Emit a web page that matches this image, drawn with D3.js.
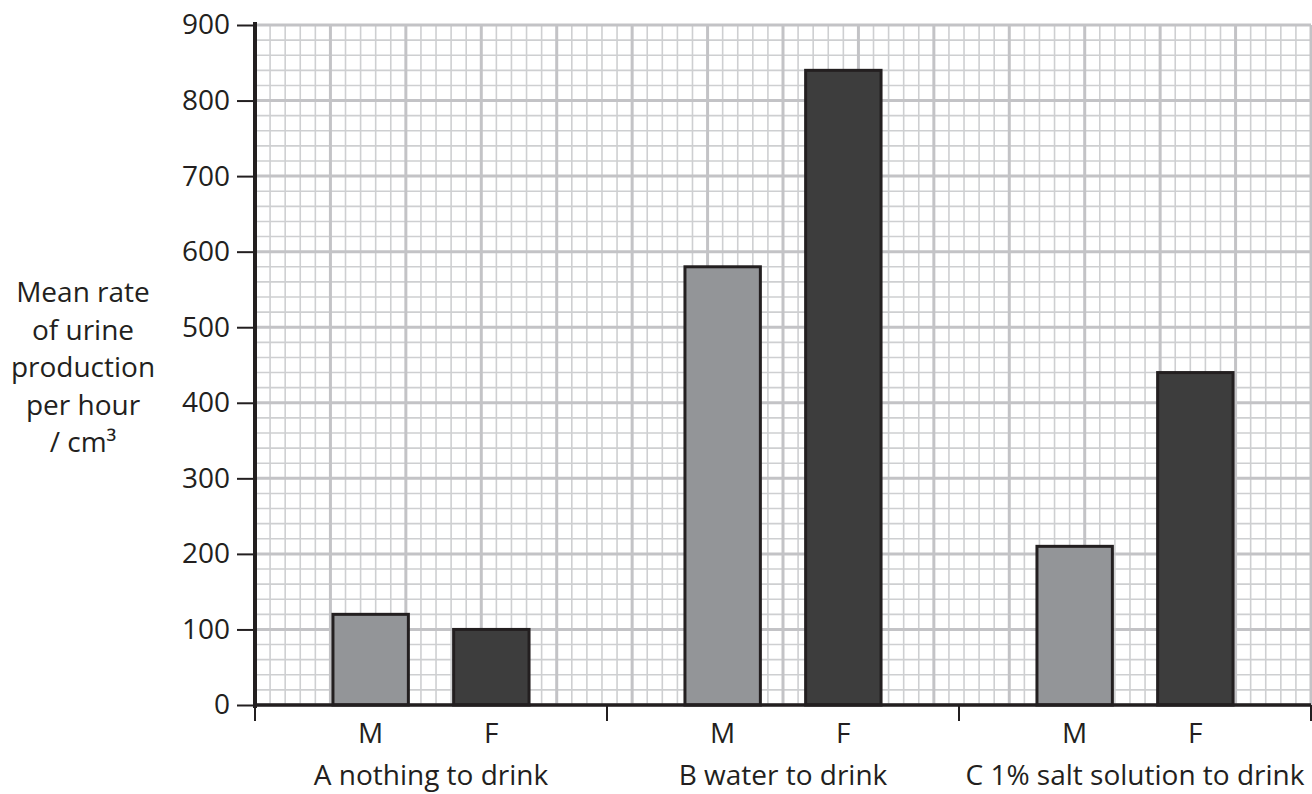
<!DOCTYPE html>
<html>
<head>
<meta charset="utf-8">
<script src="https://cdn.jsdelivr.net/npm/d3@7"></script>
<style>
  body { margin: 0; background: #fff; }
  svg text { font-family: "Open Sans", sans-serif; fill: #231f20; }
</style>
</head>
<body>
<svg id="chart"></svg>
<script>
// values
const groups = ["A nothing to drink", "B water to drink", "C 1% salt solution to drink"]
const sexes = ["M", "F"]
const maleRate = [120, 580, 210]
const femaleRate = [100, 840, 440]
const yTicks = [0, 100, 200, 300, 400, 500, 600, 700, 800, 900]
const yTitle = ["Mean rate", "of urine", "production", "per hour", "/ cm³"]

const width = 1312
const height = 794
const margin = { top: 25, right: 1, bottom: 89, left: 255 }
const ink = "#231f20"

const svg = d3.select("#chart")
    .attr("width", width)
    .attr("height", height)

const x0 = d3.scaleBand()
    .domain(groups)
    .range([margin.left, width - margin.right])

const x1 = d3.scaleBand()
    .domain(sexes)
    .range([0, x0.bandwidth()])
    .paddingInner(0.375)
    .paddingOuter(0.646)

const y = d3.scaleLinear()
    .domain([0, 900])
    .range([height - margin.bottom, margin.top])

// graph paper: 70 small squares across, one every 20 units up
const gx = d3.scaleLinear().domain([0, 70]).range(x0.range())
const grid = svg.append("g")

const minorX = d3.range(0, 71).filter(d => d % 5 !== 0)
const majorX = d3.range(0, 71, 5)
const minorY = d3.range(0, 901, 20).filter(d => d % 100 !== 0)

grid.selectAll(".minor-v")
    .data(minorX)
    .enter()
    .append("line")
    .attr("x1", d => gx(d)).attr("x2", d => gx(d))
    .attr("y1", y(0)).attr("y2", y(900))
    .attr("stroke", "#cecfd1")
    .attr("stroke-width", 1.6)

grid.selectAll(".minor-h")
    .data(minorY)
    .enter()
    .append("line")
    .attr("x1", gx(0)).attr("x2", gx(70))
    .attr("y1", d => y(d)).attr("y2", d => y(d))
    .attr("stroke", "#cecfd1")
    .attr("stroke-width", 1.6)

grid.selectAll(".major-v")
    .data(majorX)
    .enter()
    .append("line")
    .attr("x1", d => gx(d)).attr("x2", d => gx(d))
    .attr("y1", y(0)).attr("y2", y(900))
    .attr("stroke", "#c3c3c6")
    .attr("stroke-width", 3)

grid.selectAll(".major-h")
    .data(yTicks)
    .enter()
    .append("line")
    .attr("x1", gx(0)).attr("x2", gx(70))
    .attr("y1", d => y(d)).attr("y2", d => y(d))
    .attr("stroke", "#c3c3c6")
    .attr("stroke-width", 3)

// bars
const rows = groups.map((g, i) => ({ group: g, values: [
    { sex: "M", value: maleRate[i] },
    { sex: "F", value: femaleRate[i] }
] }))

const colour = d3.scaleOrdinal().domain(sexes).range(["#939598", "#3d3d3d"])

const groupG = svg.append("g")
    .selectAll(".group")
    .data(rows)
    .enter()
    .append("g")
    .attr("transform", d => `translate(${x0(d.group)},0)`)

groupG.selectAll("rect")
    .data(d => d.values)
    .enter()
    .append("rect")
    .attr("x", d => x1(d.sex))
    .attr("width", x1.bandwidth())
    .attr("y", d => y(d.value))
    .attr("height", d => y(0) - y(d.value))
    .attr("fill", d => colour(d.sex))
    .attr("stroke", ink)
    .attr("stroke-width", 3)

groupG.selectAll(".sex")
    .data(d => d.values)
    .enter()
    .append("text")
    .attr("x", d => x1(d.sex) + x1.bandwidth() / 2)
    .attr("y", y(0) + 38)
    .attr("text-anchor", "middle")
    .style("font-size", "28px")
    .text(d => d.sex)

groupG.append("text")
    .attr("x", x0.bandwidth() / 2)
    .attr("y", y(0) + 80)
    .attr("text-anchor", "middle")
    .style("font-size", "28px")
    .text(d => d.group)

// y axis
const yAxis = d3.axisLeft(y)
    .tickValues(yTicks)
    .tickSize(18)
    .tickPadding(7)

const yG = svg.append("g")
    .attr("transform", `translate(${margin.left},0)`)
    .call(yAxis)

yG.select(".domain").remove()
yG.selectAll(".tick line").attr("stroke", ink).attr("stroke-width", 2)
yG.selectAll(".tick text")
    .style("font-size", "28px")
    .attr("fill", ink)

svg.append("line")
    .attr("x1", margin.left).attr("x2", margin.left)
    .attr("y1", y(900) - 3).attr("y2", y(0) + 3)
    .attr("stroke", ink)
    .attr("stroke-width", 4)

// x axis: separators between the groups
const sepTicks = groups.map(g => x0(g)).concat([x0.range()[1]])

svg.append("line")
    .attr("x1", margin.left).attr("x2", x0.range()[1])
    .attr("y1", y(0)).attr("y2", y(0))
    .attr("stroke", ink)
    .attr("stroke-width", 3.5)

svg.selectAll(".sep")
    .data(sepTicks)
    .enter()
    .append("line")
    .attr("x1", d => d).attr("x2", d => d)
    .attr("y1", y(0)).attr("y2", y(0) + 16)
    .attr("stroke", ink)
    .attr("stroke-width", 2)

// y title, centred on the axis
svg.append("text")
    .attr("x", 83)
    .attr("y", 302)
    .attr("text-anchor", "middle")
    .style("font-size", "28px")
    .selectAll("tspan")
    .data(yTitle)
    .enter()
    .append("tspan")
    .attr("x", 83)
    .attr("dy", (d, i) => i === 0 ? 0 : 37.5)
    .text(d => d)
</script>
</body>
</html>
